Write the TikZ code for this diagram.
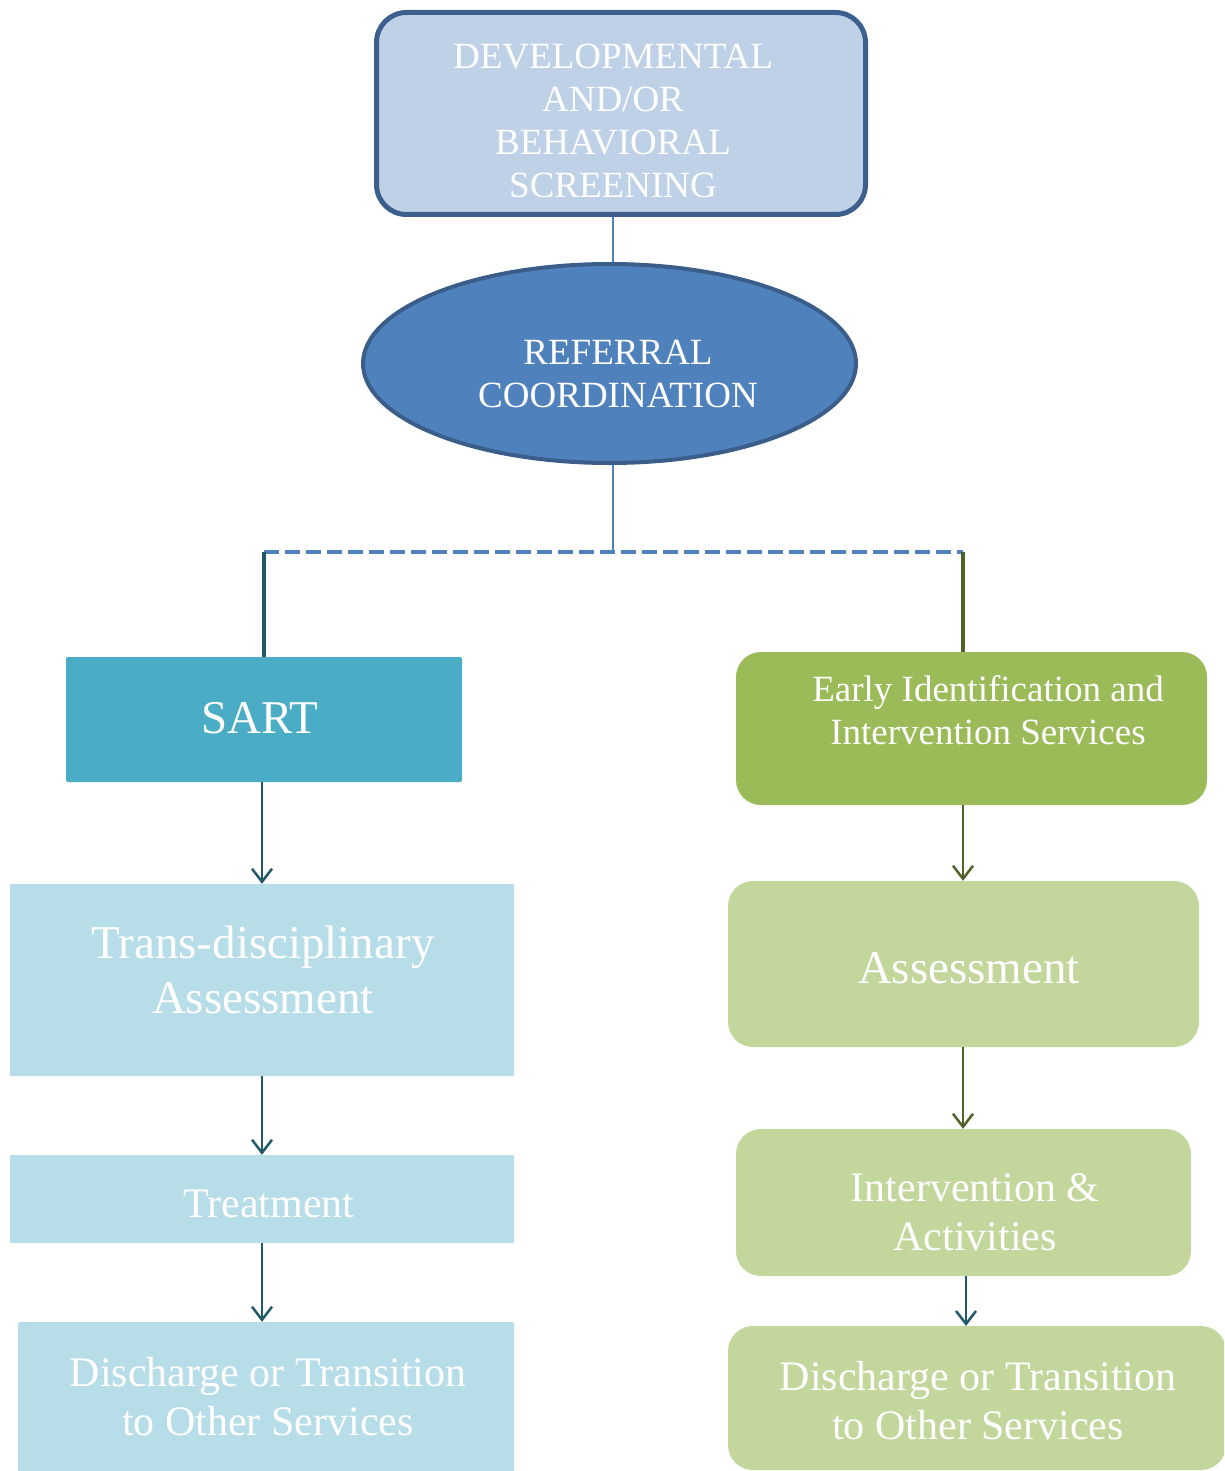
\documentclass[tikz,border=0pt]{standalone}
\usepackage{fontspec}
\setmainfont{Liberation Serif}
\usetikzlibrary{arrows.meta,shapes.geometric}
\definecolor{topfill}{HTML}{BFD1E7}
\definecolor{topdraw}{HTML}{3C5F8E}
\definecolor{ellfill}{HTML}{4F81BD}
\definecolor{elldraw}{HTML}{3A5D8A}
\definecolor{linkblue}{HTML}{4F81BD}
\definecolor{darkteal}{HTML}{215968}
\definecolor{darkolive}{HTML}{4F6228}
\definecolor{sartfill}{HTML}{4BACC6}
\definecolor{lightteal}{HTML}{B7DDE8}
\definecolor{greenfill}{HTML}{9BBB59}
\definecolor{lightgreen}{HTML}{C3D69B}
\begin{document}
\begin{tikzpicture}[x=1pt,y=-1pt,
  boxshape/.style={inner sep=0pt, draw=none},
  txt/.style={text=white, align=center, inner sep=0pt},
  capsfont/.style={font=\fontsize{37}{43}\selectfont},
  bigfont/.style={font=\fontsize{47}{55}\selectfont},
  midfont/.style={font=\fontsize{42}{49}\selectfont},
  tealarrow/.style={draw=darkteal, line width=2.5pt, -{Straight Barb[length=13pt,width=20pt]}},
  olivearrow/.style={draw=darkolive, line width=2.5pt, -{Straight Barb[length=13pt,width=20pt]}},
  thinlink/.style={draw=linkblue, line width=1.5pt}]
\useasboundingbox (0,0) rectangle (1224,1471);
\clip (0,0) rectangle (1224,1471);

% top box
\node[boxshape, draw=topdraw, line width=5pt, fill=topfill, rounded corners=30pt,
  minimum width=489pt, minimum height=202pt] (top) at (621,113.5) {};
\node[txt, capsfont] (toptxt) at (613,121) {DEVELOPMENTAL\\AND/OR\\BEHAVIORAL\\SCREENING};

% ellipse
\node[ellipse, boxshape, draw=elldraw, line width=4pt, fill=ellfill,
  minimum width=493pt, minimum height=199pt] (ell) at (609.5,363.5) {};
\node[txt, capsfont] (elltxt) at (618,374) {REFERRAL\\COORDINATION};

% junction coordinates
\coordinate (cx) at (613,0);
\coordinate (j) at (613,552);
\coordinate (jl) at (264,552);
\coordinate (jr) at (963,552);

% left column
\node[boxshape, fill=sartfill, rounded corners=2pt, minimum width=396pt, minimum height=125pt] (sart) at (264,719.5) {};
\node[txt, font=\fontsize{47}{55}\selectfont] (sarttxt) at (260,718) {SART};
\node[boxshape, fill=lightteal, rounded corners=1pt, minimum width=504pt, minimum height=192pt] (trans) at (262,980) {};
\node[txt, bigfont] (transtxt) at (263,970) {Trans-disciplinary\\Assessment};
\node[boxshape, fill=lightteal, rounded corners=1pt, minimum width=504pt, minimum height=88pt] (treat) at (262,1199) {};
\node[txt, midfont] (treattxt) at (269,1204) {Treatment};
\node[boxshape, fill=lightteal, rounded corners=1pt, minimum width=496pt, minimum height=170pt] (dischl) at (266,1407) {};
\node[txt, midfont] (dischltxt) at (268,1397) {Discharge or Transition\\to Other Services};

% right column
\node[boxshape, fill=greenfill, rounded corners=25pt, minimum width=471pt, minimum height=153pt] (early) at (971.5,728.5) {};
\node[txt, capsfont] (earlytxt) at (988,710) {Early Identification and\\Intervention Services};
\node[boxshape, fill=lightgreen, rounded corners=25pt, minimum width=471pt, minimum height=166pt] (assr) at (963.5,964) {};
\node[txt, bigfont] (assrtxt) at (969,968) {Assessment};
\node[boxshape, fill=lightgreen, rounded corners=25pt, minimum width=455pt, minimum height=147pt] (interv) at (963.5,1202.5) {};
\node[txt, midfont] (intervtxt) at (975,1212) {Intervention \&\\Activities};
\node[boxshape, fill=lightgreen, rounded corners=25pt, minimum width=498pt, minimum height=144pt] (dischr) at (977,1398) {};
\node[txt, midfont] (dischrtxt) at (978,1401) {Discharge or Transition\\to Other Services};

% connectors
\draw[thinlink] (cx |- top.south) -- (cx |- ell.north);
\draw[thinlink] (cx |- ell.south) -- (j);
\draw[draw=linkblue, line width=4.5pt, dash pattern=on 15pt off 6pt] (jl) -- (jr);
\draw[draw=darkteal, line width=4pt] (jl) -- (jl |- sart.north);
\draw[draw=darkolive, line width=4pt] (jr) -- (jr |- early.north);

\draw[tealarrow] (262,782) -- (trans.north);
\draw[tealarrow] (trans.south) -- (treat.north);
\draw[tealarrow] (treat.south) -- (dischl.north -| treat.south);
\draw[olivearrow] (jr |- early.south) -- (jr |- assr.north);
\draw[olivearrow] (jr |- assr.south) -- (jr |- interv.north);
\draw[tealarrow] (966,1276) -- (966,1326);
\end{tikzpicture}
\end{document}
